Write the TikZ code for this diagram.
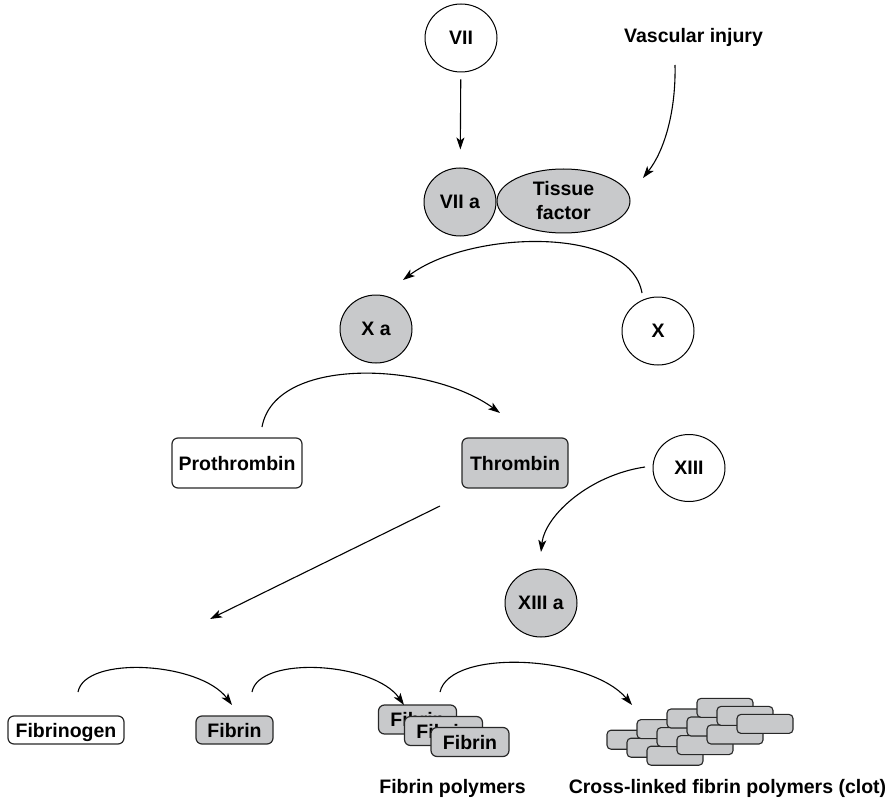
\documentclass[tikz,border=0pt]{standalone}
\usepackage{fontspec}
\setmainfont{Liberation Sans}
\usetikzlibrary{shapes.geometric,arrows.meta}
\definecolor{factorgray}{RGB}{200,201,203}
\definecolor{edgegray}{RGB}{40,40,40}

\begin{document}
\begin{tikzpicture}[x=1pt,y=-1pt,
  every node/.style={font=\fontsize{19.5}{24}\selectfont\bfseries, text=black},
  factor/.style={ellipse, draw=black, line width=1pt, inner sep=0pt,
    minimum width=72pt, minimum height=68pt},
  active/.style={factor, fill=factorgray},
  protein/.style={draw=edgegray, line width=1.2pt, rounded corners=6pt,
    inner sep=0pt, text depth=0pt},
  activeprotein/.style={protein, fill=factorgray},
  link/.style={line width=1.1pt, -{Stealth[length=12pt,width=8pt,inset=3pt]}},
  brick/.style={draw=edgegray, fill=factorgray, line width=1.1pt,
    rounded corners=4pt, minimum width=56pt, minimum height=19pt, inner sep=0pt}
]
\useasboundingbox (0,0) rectangle (896,802);

% extrinsic pathway
\node[factor] (vii) at (461,38) {VII};
\node (vasc) at (693.5,37) {Vascular injury};
\node[active] (viia) at (460,202) {VII a};
\node[active, minimum width=133pt, minimum height=64pt, align=center] (tf) at (563.5,201) {Tissue\\factor};

% factor X
\node[active] (xa) at (376,329) {X a};
\node[factor] (x) at (658,331) {X};

% thrombin generation
\node[protein, minimum width=130pt, minimum height=50pt] (pro) at (237,463) {Prothrombin};
\node[activeprotein, minimum width=106pt, minimum height=50pt] (thr) at (515,463) {Thrombin};

% factor XIII
\node[factor, minimum height=67pt] (xiii) at (689,468) {XIII};
\node[active] (xiiia) at (541,603) {XIII a};

% fibrin formation
\node[protein, minimum width=116pt, minimum height=28pt] (fbg) at (66,730) {Fibrinogen};
\node[activeprotein, minimum width=77pt, minimum height=28pt] (fib) at (234.5,730) {Fibrin};

% stacked fibrin polymers
\node[activeprotein, minimum width=78pt, minimum height=29pt] (poly1) at (417.5,719.5) {Fibrin};
\node[activeprotein, minimum width=78pt, minimum height=29pt] (poly2) at (443.5,731) {Fibrin};
\node[activeprotein, minimum width=78pt, minimum height=29pt] (poly3) at (470,742) {Fibrin};

% cross-linked clot: 4 columns x 3 rows of bricks
\foreach \i in {0,...,3}
  \foreach \j in {0,...,2}
    \node[brick] (brick\i\j) at ({635+30*\i+20*\j},{739.7-10.6*\i+8*\j}) {};

\node[anchor=base] (polylab) at (452.5,793) {Fibrin polymers};
\node[anchor=base] (clotlab) at (727.5,793) {Cross-linked fibrin polymers (clot)};

% connector end points
\coordinate (vasc-out) at (675,65);
\coordinate (tf-in) at (643,178);
\coordinate (x-out) at (642,293);
\coordinate (xa-in) at (403,280);
\coordinate (pro-out) at (262,427);
\coordinate (thr-in) at (500,413);
\coordinate (xiii-out) at (645,467);
\coordinate (xiiia-in) at (541,552);
\coordinate (thr-out) at (440,506);
\coordinate (fib-target) at (210,619);
\coordinate (fbg-out) at (78,692);
\coordinate (fib-in) at (232,705);
\coordinate (fib-out) at (252,692);
\coordinate (poly-in) at (404,705);
\coordinate (poly-out) at (440,692);
\coordinate (clot-in) at (632,705);

% connectors
\draw[link, shorten <=7pt, shorten >=18pt] (vii) -- (viia);
\draw[link] (vasc-out) .. controls (676,110) and (665,150) .. (tf-in);
\draw[link] (x-out) .. controls (630,225) and (470,230) .. (xa-in);
\draw[link] (pro-out) .. controls (275,355) and (430,362) .. (thr-in);
\draw[link] (xiii-out) .. controls (590,475) and (545,515) .. (xiiia-in);
\draw[link] (thr-out) -- (fib-target);
\draw[link] (fbg-out) .. controls (85,655) and (200,662) .. (fib-in);
\draw[link] (fib-out) .. controls (259,655) and (374,662) .. (poly-in);
\draw[link] (poly-out) .. controls (450,648) and (590,655) .. (clot-in);
\end{tikzpicture}
\end{document}
